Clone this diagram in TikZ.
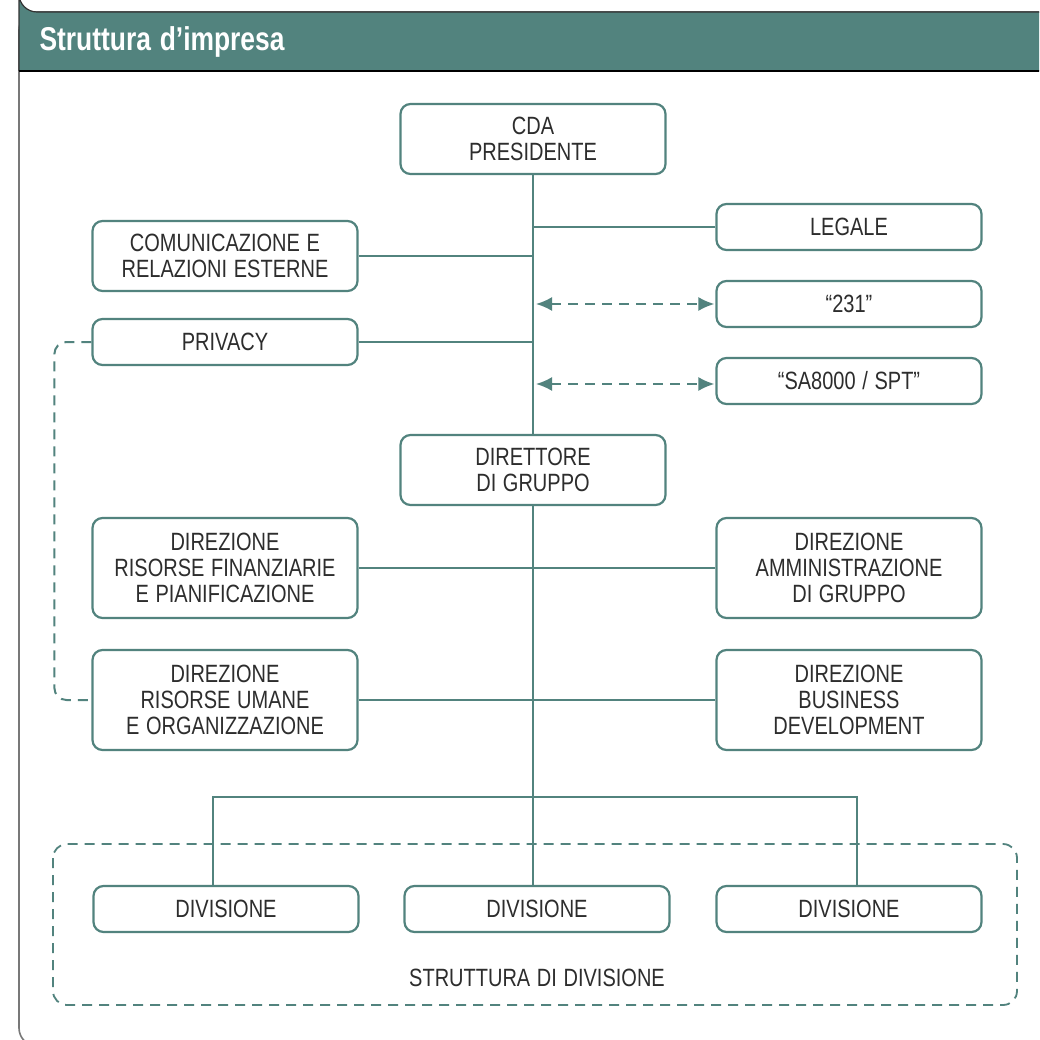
\documentclass[tikz,border=0pt]{standalone}
\usepackage{fontspec}
\setmainfont{Liberation Sans}[FakeStretch=0.8,WordSpace=1.2]
\usepackage{tikz}
\usetikzlibrary{shapes,arrows,arrows.meta,positioning}
\definecolor{orgteal}{RGB}{82,131,126}
\definecolor{orgtext}{RGB}{45,45,45}
\definecolor{orgframe}{RGB}{120,120,120}

\begin{document}
\begin{tikzpicture}[x=1pt,y=-1pt, block/.style = {rectangle, draw=orgteal, line width=2.2pt, rounded corners=10pt, minimum width=265pt, minimum height=46pt, text width=258pt, align=flush center, text=orgtext, inner sep=0pt, font=\fontsize{25}{26}\selectfont}, line/.style = {draw=orgteal, line width=2pt}, dline/.style = {line, dash pattern=on 10pt off 7pt}, biarrow/.style = {dline, {Latex[length=16pt,width=14pt]}-{Latex[length=16pt,width=14pt]}}]
\useasboundingbox (0,0) rectangle (1039,1040);

% frame and title band
\begin{scope}
\clip (0,0) rectangle (1039,1040);
\fill[white] (0,0) rectangle (1039,1040);
\draw[orgframe, line width=1.6pt, rounded corners=18pt] (1060,12) -- (19,12) -- (19,1046) -- (1060,1046);
\fill[orgteal] (1060,12) -- (37,12) arc[start angle=90, end angle=180, radius=18] -- (19,71) -- (1060,71) -- cycle;
\draw[black!80, line width=1.2pt] (1060,12) -- (37,12) arc[start angle=90, end angle=180, radius=18] -- (19,71);
\draw[black, line width=1.6pt] (19,71) -- (1060,71);
\end{scope}
\node[anchor=west, text=white, font=\bfseries\fontsize{33}{33}\selectfont] (title) at (36,42) {Struttura d’impresa};

% nodes
\node[block, minimum height=70pt] (cda) at (533,139) {CDA\\PRESIDENTE};
\node[block] (legale) at (849,227) {LEGALE};
\node[block, minimum height=70pt] (comunicazione) at (225,256) {COMUNICAZIONE E\\RELAZIONI ESTERNE};
\node[block] (n231) at (849,304) {“231”};
\node[block] (privacy) at (225,342) {PRIVACY};
\node[block] (sa8000) at (849,381) {“SA8000 / SPT”};
\node[block, minimum height=70pt] (direttore) at (533,470) {DIRETTORE\\DI GRUPPO};
\node[block, minimum height=100pt] (finanza) at (225,568) {DIREZIONE\\RISORSE FINANZIARIE\\E PIANIFICAZIONE};
\node[block, minimum height=100pt] (amministrazione) at (849,568) {DIREZIONE\\AMMINISTRAZIONE\\DI GRUPPO};
\node[block, minimum height=100pt] (umane) at (225,700) {DIREZIONE\\RISORSE UMANE\\E ORGANIZZAZIONE};
\node[block, minimum height=100pt] (business) at (849,700) {DIREZIONE\\BUSINESS\\DEVELOPMENT};
\node[block] (div1) at (226,909) {DIVISIONE};
\node[block] (div2) at (537,909) {DIVISIONE};
\node[block] (div3) at (849,909) {DIVISIONE};
\node[text=orgtext, font=\fontsize{25}{26}\selectfont] (struttura) at (537,978) {STRUTTURA DI DIVISIONE};
\coordinate (busl) at (213,797);
\coordinate (busr) at (857,797);

% connectors
\path[line] (cda.south) -- (direttore.north);
\path[line] (direttore.south) -- (direttore.south |- div2.north);
\path[line] (legale.west) -- (legale.west -| cda.south);
\path[line] (comunicazione.east) -- (comunicazione.east -| cda.south);
\path[line] (privacy.east) -- (privacy.east -| cda.south);
\path[biarrow] ([xshift=3pt]n231.west -| cda.south) -- ([xshift=-1pt]n231.west);
\path[biarrow] ([xshift=3pt,yshift=-3pt]sa8000.west -| cda.south) -- ([xshift=-1pt,yshift=-3pt]sa8000.west);
\path[line] (finanza.east) -- (amministrazione.west);
\path[line] (umane.east) -- (business.west);
\path[line] (div1.north -| busl) -- (busl) -- (busr) -- (div3.north -| busr);
\path[dline, rounded corners=12pt] (privacy.west) -- ++(-37,0) |- (umane.west);
\draw[orgteal, line width=1.8pt, dash pattern=on 10pt off 7pt, rounded corners=14pt] (53,844) rectangle (1017,1005);
\end{tikzpicture}
\end{document}
